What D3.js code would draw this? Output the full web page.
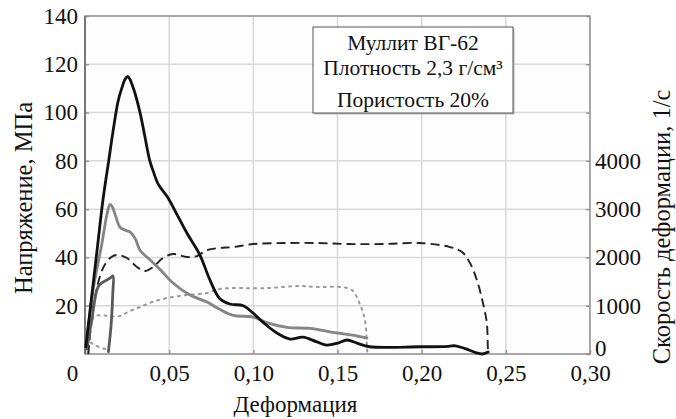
<!DOCTYPE html>
<html>
<head>
<meta charset="utf-8">
<script src="https://cdn.jsdelivr.net/npm/d3@7"></script>
<style>
  html, body { margin: 0; padding: 0; background: #fff; }
  svg { display: block; }
  svg text { font-family: 'Liberation Serif', 'Times New Roman', Times, serif !important; fill: #111; }
</style>
</head>
<body>
<svg id="chart" width="676" height="419"></svg>
<script>
// Axis ticks
const strainTicks = [0, 0.05, 0.10, 0.15, 0.20, 0.25, 0.30];
const strainTickLabels = ["0", "0,05", "0,10", "0,15", "0,20", "0,25", "0,30"];
const stressTicks = [20, 40, 60, 80, 100, 120, 140];
const rateTicks = [0, 1000, 2000, 3000, 4000, 5000, 6000, 7000];
const rateTickLabels = ["0", "1000", "2000", "3000", "4000", "", "", ""];

// Stress–strain curves, [strain, MPa]
const stressA = [
  [0.0005, 3], [0.004, 24], [0.0075, 45], [0.0107, 64], [0.0143, 81], [0.0166, 92],
  [0.0196, 104.5], [0.0218, 110], [0.0238, 113.8], [0.0253, 115], [0.0267, 113.8],
  [0.0285, 110.5], [0.0297, 108], [0.0327, 100], [0.0356, 90], [0.0385, 80],
  [0.0404, 76], [0.0434, 70.5], [0.049, 65], [0.0545, 58], [0.0606, 50], [0.0683, 41],
  [0.074, 31], [0.080, 23], [0.0861, 20.7], [0.094, 20], [0.0998, 17], [0.106, 13],
  [0.114, 8.7], [0.1218, 6.2], [0.1295, 7], [0.1378, 5], [0.1437, 3.7], [0.150, 4.5],
  [0.1556, 5.8], [0.1616, 4.5], [0.169, 3], [0.199, 3], [0.216, 3.2], [0.220, 3.4],
  [0.226, 2.2], [0.232, 0.6], [0.236, 0], [0.2395, 0.8]
];
const stressB = [
  [0.0005, 2], [0.0048, 26.5], [0.0101, 46], [0.0131, 58], [0.0149, 62], [0.0162, 61],
  [0.0178, 58], [0.0208, 52.5], [0.0238, 51.3], [0.0267, 50.6], [0.0297, 48],
  [0.0327, 43], [0.0386, 39], [0.0446, 35], [0.0523, 29.4], [0.0624, 24.4],
  [0.0725, 21.5], [0.080, 18.5], [0.088, 16], [0.0998, 15.3], [0.108, 13], [0.12, 11],
  [0.1337, 10.6], [0.147, 9], [0.159, 7.8], [0.1675, 6.6]
];
const stressC = [
  [0.001, 2], [0.004, 14], [0.0077, 27.7], [0.0107, 29.8], [0.0149, 31.4],
  [0.0166, 32.3], [0.0165, 25], [0.0155, 12], [0.0139, 1]
];

// Strain-rate curves, [strain, 1/s]
const rateA = [
  [0.002, 0], [0.0035, 600], [0.006, 1200], [0.0107, 1780], [0.0149, 1988], [0.019, 2050],
  [0.0249, 1988], [0.0309, 1800], [0.0356, 1718], [0.0404, 1800], [0.0463, 1988],
  [0.0523, 2070], [0.0606, 2008], [0.0665, 2029], [0.0725, 2153], [0.080, 2195],
  [0.088, 2215], [0.0998, 2277], [0.1176, 2298], [0.1378, 2298], [0.157, 2277],
  [0.177, 2277], [0.199, 2298], [0.2168, 2215], [0.224, 2112], [0.2287, 1884],
  [0.2328, 1532], [0.2364, 1056], [0.2387, 642], [0.2393, 145], [0.2395, 0]
];
const rateB = [
  [0.0015, 0], [0.003, 400], [0.0055, 780], [0.010, 800], [0.020, 780], [0.026, 880],
  [0.0327, 973], [0.040, 1077], [0.0487, 1160], [0.0606, 1222], [0.0725, 1263],
  [0.080, 1346], [0.108, 1366], [0.1277, 1408], [0.1378, 1387], [0.1515, 1387],
  [0.1586, 1325], [0.163, 1056], [0.1663, 704], [0.1675, 145], [0.1678, 0]
];
const rateC = [
  [0.0008, 350], [0.003, 250], [0.008, 150], [0.0145, 80]
];

const infoLines = ["Муллит ВГ-62", "Плотность 2,3 г/см³", "Пористость 20%"];

const serif = "'Liberation Serif', 'Times New Roman', Times, serif";
const svg = d3.select("#chart").style("font-family", serif);
const plot = { left: 85, right: 590, top: 16, bottom: 354 };

const x = d3.scaleLinear().domain([0, 0.30]).range([plot.left, plot.right]);
const yStress = d3.scaleLinear().domain([0, 140]).range([plot.bottom, plot.top]);
const yRate = d3.scaleLinear().domain([0, 7000]).range([plot.bottom, plot.top]);

// plot background
svg.append("rect")
  .attr("x", plot.left).attr("y", plot.top)
  .attr("width", plot.right - plot.left).attr("height", plot.bottom - plot.top)
  .attr("fill", "#fdfdfd");

// grid
const grid = svg.append("g").attr("stroke", "#d9d9d9").attr("stroke-width", 1.5);
grid.selectAll("line.v").data(strainTicks.slice(1, -1)).join("line")
  .attr("x1", d => x(d)).attr("x2", d => x(d))
  .attr("y1", plot.top).attr("y2", plot.bottom);
grid.selectAll("line.h").data(stressTicks.slice(0, -1)).join("line")
  .attr("x1", plot.left).attr("x2", plot.right)
  .attr("y1", d => yStress(d)).attr("y2", d => yStress(d));

// axes
const fontSize = 23;
const xAxis = svg.append("g")
  .attr("transform", `translate(0,${plot.bottom})`)
  .call(d3.axisBottom(x).tickValues(strainTicks)
    .tickFormat((d, i) => strainTickLabels[i]).tickSize(-4).tickPadding(11));
xAxis.selectAll("text")
  .attr("dx", (d, i) => i === 0 ? -13 : 0);

const yAxisL = svg.append("g")
  .attr("transform", `translate(${plot.left},0)`)
  .call(d3.axisLeft(yStress).tickValues(stressTicks).tickSize(-4).tickPadding(7));

const yAxisR = svg.append("g")
  .attr("transform", `translate(${plot.right},0)`)
  .call(d3.axisRight(yRate).tickValues(rateTicks)
    .tickFormat((d, i) => rateTickLabels[i]).tickSize(-4).tickPadding(5));
yAxisR.selectAll("text").attr("dy", d => d === 0 ? "0.05em" : "0.32em");

[xAxis, yAxisL, yAxisR].forEach(g => {
  g.attr("font-family", serif).attr("font-size", fontSize);
  g.select(".domain").remove();
  g.selectAll(".tick line").attr("stroke", "#999").attr("stroke-width", 1.5);
  g.selectAll("text").attr("fill", "#111");
});

// frame
svg.append("rect")
  .attr("x", plot.left).attr("y", plot.top)
  .attr("width", plot.right - plot.left).attr("height", plot.bottom - plot.top)
  .attr("fill", "none").attr("stroke", "#8c8c8c").attr("stroke-width", 1.5);
svg.append("line")
  .attr("x1", plot.left).attr("x2", plot.left)
  .attr("y1", plot.top).attr("y2", plot.bottom)
  .attr("stroke", "#777").attr("stroke-width", 2);

// curves
const lineStress = d3.line().x(d => x(d[0])).y(d => yStress(d[1])).curve(d3.curveCatmullRom.alpha(0.5));
const lineRate = d3.line().x(d => x(d[0])).y(d => yRate(d[1])).curve(d3.curveCatmullRom.alpha(0.5));

const curves = svg.append("g").attr("fill", "none").attr("stroke-linejoin", "round").attr("stroke-linecap", "round");

curves.append("path").datum(rateB).attr("d", lineRate)
  .attr("stroke", "#9a9a9a").attr("stroke-width", 2).attr("stroke-dasharray", "2,5");
curves.append("path").datum(rateC).attr("d", lineRate)
  .attr("stroke", "#9a9a9a").attr("stroke-width", 2).attr("stroke-dasharray", "2,5");
curves.append("path").datum(rateA).attr("d", lineRate)
  .attr("stroke", "#222").attr("stroke-width", 1.9).attr("stroke-dasharray", "9,5")
  .attr("stroke-linecap", "butt");
curves.append("path").datum(stressB).attr("d", lineStress)
  .attr("stroke", "#858585").attr("stroke-width", 2.8);
curves.append("path").datum(stressC).attr("d", lineStress)
  .attr("stroke", "#5a5a5a").attr("stroke-width", 2.8);
curves.append("path").datum(stressA).attr("d", lineStress)
  .attr("stroke", "#111").attr("stroke-width", 2.8);

// info box
const box = { x: 313, y: 27, w: 200, h: 86 };
svg.append("rect")
  .attr("x", box.x + 1.5).attr("y", box.y + 1.5).attr("width", box.w).attr("height", box.h)
  .attr("fill", "#bbb");
svg.append("rect")
  .attr("x", box.x).attr("y", box.y).attr("width", box.w).attr("height", box.h)
  .attr("fill", "#fff").attr("stroke", "#555").attr("stroke-width", 1);
svg.append("g").selectAll("text").data(infoLines).join("text")
  .attr("x", box.x + box.w / 2)
  .attr("y", (d, i) => box.y + [23, 48, 80][i])
  .attr("text-anchor", "middle")
  .attr("font-size", 21.5)
  .text(d => d);

// axis titles
svg.append("text")
  .attr("x", (plot.left + plot.right) / 2 - 42).attr("y", 412)
  .attr("text-anchor", "middle").attr("font-size", fontSize)
  .text("Деформация");
svg.append("text")
  .attr("transform", `translate(32,${(plot.top + plot.bottom) / 2 + 13}) rotate(-90)`)
  .attr("text-anchor", "middle").attr("font-size", 24.5)
  .text("Напряжение, МПа");
svg.append("text")
  .attr("transform", `translate(670,${(plot.top + plot.bottom) / 2 + 42}) rotate(-90)`)
  .attr("text-anchor", "middle").attr("font-size", 24.5)
  .text("Скорость деформации, 1/с");
</script>
</body>
</html>
